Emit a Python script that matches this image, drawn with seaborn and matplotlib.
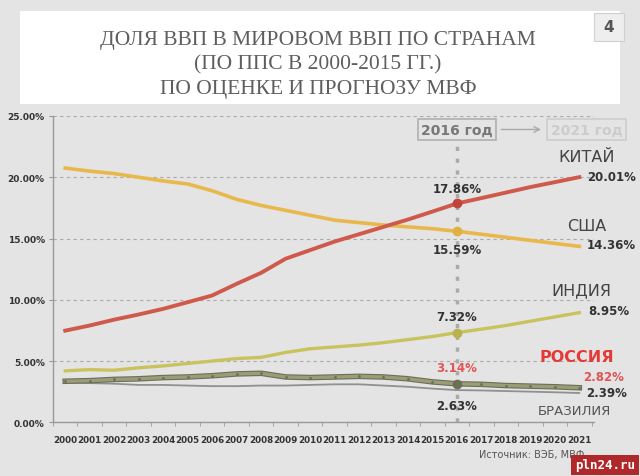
import matplotlib
matplotlib.use('Agg')
import matplotlib.pyplot as plt
import matplotlib.patheffects as pe
from matplotlib.patches import Rectangle
import seaborn as sns
import pandas as pd

years = list(range(2000, 2022))
china = [7.48, 7.9, 8.38, 8.8, 9.26, 9.8, 10.35, 11.3, 12.2, 13.35, 14.05, 14.75, 15.35,
         15.95, 16.55, 17.2, 17.86, 18.3, 18.75, 19.2, 19.6, 20.01]
usa = [20.75, 20.5, 20.3, 20.0, 19.7, 19.45, 18.9, 18.2, 17.7, 17.3, 16.9, 16.5, 16.3,
       16.1, 15.95, 15.8, 15.59, 15.35, 15.1, 14.85, 14.6, 14.36]
india = [4.2, 4.3, 4.25, 4.45, 4.6, 4.8, 5.0, 5.2, 5.3, 5.7, 6.0, 6.15, 6.3, 6.5, 6.75,
         7.0, 7.32, 7.6, 7.9, 8.25, 8.6, 8.95]
russia = [3.35, 3.4, 3.5, 3.55, 3.65, 3.7, 3.8, 3.95, 4.0, 3.7, 3.65, 3.7, 3.75, 3.7,
          3.55, 3.3, 3.14, 3.1, 3.0, 2.95, 2.9, 2.82]
brazil = [3.25, 3.2, 3.15, 3.05, 3.05, 3.0, 2.95, 2.95, 3.0, 3.0, 3.05, 3.1, 3.1, 3.0,
          2.9, 2.75, 2.63, 2.6, 2.55, 2.5, 2.45, 2.39]

df = pd.DataFrame({'year': years, 'КИТАЙ': china, 'США': usa, 'ИНДИЯ': india,
                   'РОССИЯ': russia, 'БРАЗИЛИЯ': brazil})

bg = '#e4e4e4'
fig = plt.figure(figsize=(6.4, 4.77), dpi=100, facecolor=bg)

# title panel
fig.patches.append(Rectangle((20 / 640, 1 - 105 / 477), 600 / 640, 93 / 477,
                             transform=fig.transFigure, facecolor='white', edgecolor='none'))
fig.patches.append(Rectangle((594 / 640, 1 - 42 / 477), 30 / 640, 28 / 477,
                             transform=fig.transFigure, facecolor='#eeeeee', edgecolor='#d0d0d0', lw=0.8))
fig.text(609 / 640, 1 - 28 / 477, '4', ha='center', va='center', fontsize=11,
         fontweight='bold', color='#555555', family='DejaVu Sans')
for i, line in enumerate(['ДОЛЯ ВВП В МИРОВОМ ВВП ПО СТРАНАМ',
                          '(ПО ППС В 2000-2015 ГГ.)',
                          'ПО ОЦЕНКЕ И ПРОГНОЗУ МВФ']):
    fig.text(318 / 640, 1 - (40 + i * 25) / 477, line, ha='center', va='center',
             fontsize=15.5, color='#5e5e5e', family='Liberation Serif')

ax = fig.add_axes([53 / 640, 1 - 423.3 / 477, 541 / 640, 306.3 / 477])
ax.set_facecolor(bg)

sns.lineplot(data=df, x='year', y='США', ax=ax, color='#e8b84c', lw=2.6)
sns.lineplot(data=df, x='year', y='КИТАЙ', ax=ax, color='#cf5a4c', lw=2.8)
sns.lineplot(data=df, x='year', y='ИНДИЯ', ax=ax, color='#c9c35e', lw=2.4)
sns.lineplot(data=df, x='year', y='БРАЗИЛИЯ', ax=ax, color='#8f9190', lw=1.3)
sns.lineplot(data=df, x='year', y='РОССИЯ', ax=ax, color='#9a9d78', lw=2.4,
             path_effects=[pe.Stroke(linewidth=4, foreground='#6c6e58'), pe.Normal()])
ax.scatter(df['year'], df['РОССИЯ'], s=4, color='#6c6e55', zorder=4, linewidths=0)

# 2016 markers
for col, c in [('КИТАЙ', '#c0443a'), ('США', '#e0b040'), ('ИНДИЯ', '#b8b250'),
               ('РОССИЯ', '#6c6e55')]:
    ax.plot(2016, df.loc[df.year == 2016, col].iloc[0], 'o', color=c, ms=6, zorder=5)

ax.set_xlim(1999.55, 2021.6)
ax.set_ylim(0, 25)
ax.set_xticks(years)
ax.set_xticklabels([str(y) for y in years])
ax.set_xticks([y + 0.5 for y in range(1999, 2022)], minor=True)
ax.set_yticks([0, 5, 10, 15, 20, 25])
ax.set_yticklabels(['0.00%', '5.00%', '10.00%', '15.00%', '20.00%', '25.00%'])
ax.set_xlabel('')
ax.set_ylabel('')
ax.tick_params(axis='x', which='major', length=0, pad=9, labelsize=6.3, labelcolor='#333333')
ax.tick_params(axis='x', which='minor', length=3, color='#999999')
ax.tick_params(axis='y', length=3, color='#999999', labelsize=6.5, labelcolor='#333333', pad=3)
for t in ax.get_xticklabels() + ax.get_yticklabels():
    t.set_fontweight('bold')
ax.grid(axis='y', color='#aaaaaa', ls=(0, (3, 3)), lw=0.8)
ax.set_axisbelow(True)
for s in ['top', 'right']:
    ax.spines[s].set_visible(False)
for s in ['left', 'bottom']:
    ax.spines[s].set_color('#999999')
    ax.spines[s].set_linewidth(1)

# 2016 vertical dotted line
ax.plot([2016, 2016], [0, 23.3], color='#aaaaaa', lw=2.5, ls=(0, (1.2, 2.2)), zorder=1)

# 2016 / 2021 boxes
ax.text(2016, 23.9, '2016 год', ha='center', va='center', fontsize=10, fontweight='bold',
        color='#777777', bbox=dict(boxstyle='square,pad=0.25', fc=bg, ec='#b0b0b0', lw=1.2))
ax.text(2021.3, 23.9, '2021 год', ha='center', va='center', fontsize=10, fontweight='bold',
        color='#cccccc', bbox=dict(boxstyle='square,pad=0.25', fc=bg, ec='#cccccc', lw=1.2),
        clip_on=False)
ax.annotate('', xy=(2019.55, 23.9), xytext=(2017.7, 23.9),
            arrowprops=dict(arrowstyle='->', color='#aaaaaa', lw=1))

# value labels at 2016
lab = dict(ha='center', va='center', fontsize=8.5, fontweight='bold')
ax.text(2016, 19.1, '17.86%', color='#333333', **lab)
ax.text(2016, 14.1, '15.59%', color='#333333', **lab)
ax.text(2016, 8.6, '7.32%', color='#333333', **lab)
ax.text(2016, 4.5, '3.14%', color='#e05555', **lab)
ax.text(2016, 1.4, '2.63%', color='#333333', **lab)

# country labels on the right
name = dict(ha='center', va='center', fontsize=11.5, color='#444444', clip_on=False)
ax.text(2021.3, 21.7, 'КИТАЙ', **name)
ax.text(2021.3, 16.1, 'США', **name)
ax.text(2021.1, 10.8, 'ИНДИЯ', **name)
ax.text(2020.8, 1.0, 'БРАЗИЛИЯ', ha='center', va='center', fontsize=9.5, color='#555555')
ax.text(2020.9, 5.4, 'РОССИЯ', ha='center', va='center', fontsize=11.5, fontweight='bold',
        color='#e53935', clip_on=False)

val = dict(ha='center', va='center', fontsize=8.5, fontweight='bold', clip_on=False)
ax.text(2022.3, 20.1, '20.01%', color='#333333', **val)
ax.text(2022.3, 14.5, '14.36%', color='#333333', **val)
ax.text(2022.2, 9.1, '8.95%', color='#333333', **val)
ax.text(2022.0, 3.7, '2.82%', color='#e05555', **val)
ax.text(2022.1, 2.4, '2.39%', color='#333333', **val)

fig.text(532 / 640, 1 - 455 / 477, 'Источник: ВЭБ, МВФ', ha='center', va='center',
         fontsize=7, color='#555555')
fig.text(605 / 640, 1 - 466 / 477, 'pln24.ru', ha='center', va='center', fontsize=9,
         fontweight='bold', color='white', family='DejaVu Sans Mono',
         bbox=dict(boxstyle='square,pad=0.3', fc='#b0282a', ec='none'))

fig.savefig('out.png', dpi=100, facecolor=bg)
